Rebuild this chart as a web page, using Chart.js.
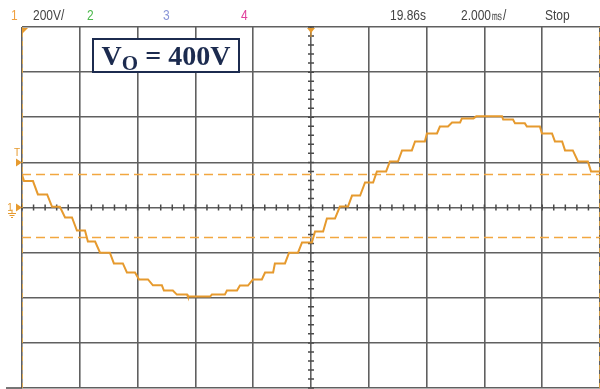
<!DOCTYPE html>
<html>
<head>
<meta charset="utf-8">
<script src="https://cdn.jsdelivr.net/npm/chart.js@4"></script>
<style>
  html, body { margin: 0; padding: 0; background: #fff; }
  #wrap { position: relative; width: 600px; height: 389px; overflow: hidden; }
  #scope { position: absolute; left: 0; top: 0; }
  .hdr { position: absolute; top: 6px; font: 15px "Liberation Sans", sans-serif; color: #444; white-space: nowrap;
         transform: scaleX(0.8); transform-origin: left top; }
  #vo { position: absolute; left: 92px; top: 38px; width: 144px; height: 31px; border: 2px solid #1c2b4f; background: #fff;
        font: bold 28px "Liberation Serif", "Times New Roman", serif; color: #1c2b4f; text-align: center; line-height: 31px; }
  #vo sub { font-size: 21px; vertical-align: -5px; line-height: 0; }
</style>
</head>
<body>
<div id="wrap">
  <canvas id="scope" width="600" height="389"></canvas>
  <span class="hdr" style="left:11px;color:#f0a040">1</span>
  <span class="hdr" style="left:33px">200V/</span>
  <span class="hdr" style="left:87px;color:#4cb84c">2</span>
  <span class="hdr" style="left:163px;color:#8a96d8">3</span>
  <span class="hdr" style="left:241px;color:#e0409c">4</span>
  <span class="hdr" style="left:390px">19.86s</span>
  <span class="hdr" style="left:461px">2.000㎳/</span>
  <span class="hdr" style="left:545px">Stop</span>
  <div id="vo">V<sub>O</sub> = 400V</div>
</div>
<script>
// channel 1 capture, 2 ms/div, 200 V/div
const stepStart = [0, 0.07, 0.55, 1.04, 1.49, 1.90, 2.28, 2.70, 3.18, 3.63, 4.05, 4.53, 4.91, 5.36, 5.74,
  6.57, 7.09, 7.54, 7.99, 8.41, 8.75, 9.24, 9.69, 10.14, 10.55, 11.00, 11.42, 11.87, 12.28, 12.73,
  13.15, 13.60, 14.01, 14.46, 14.88, 15.22, 15.72, 16.65, 17.06, 17.47, 17.99, 18.44, 18.79, 19.24, 19.69];
const stepEnd = [0.02, 0.38, 0.87, 1.31, 1.73, 2.18, 2.53, 3.04, 3.49, 3.91, 4.36, 4.84, 5.22, 5.71, 6.51,
  7.02, 7.44, 7.82, 8.30, 8.69, 9.10, 9.55, 10.03, 10.42, 10.83, 11.28, 11.70, 12.15, 12.60, 13.01,
  13.49, 13.94, 14.36, 14.74, 15.16, 15.62, 16.61, 16.99, 17.40, 17.92, 18.34, 18.69, 19.06, 19.58, 20.0];
const stepVolts = [146, 117, 58, 3, -44, -102, -151, -200, -248, -288, -319, -345, -368, -386, -395,
  -386, -368, -346, -319, -288, -248, -200, -155, -106, -49, 4, 53, 111, 160, 204,
  253, 293, 328, 359, 377, 395, 404, 390, 373, 359, 328, 293, 253, 204, 160];

const cursorVolts = [146, -133];   // horizontal cursors
const cursorTimes = [0, 20];       // vertical cursors (ms)
const trigLevel = 200;
const timeRange = [0, 20];
const voltRange = [-800, 800];

const ORANGE = "#e69a2e";

const wave = [];
stepStart.forEach((t, i) => {
  wave.push({ x: t, y: stepVolts[i] });
  wave.push({ x: stepEnd[i], y: stepVolts[i] });
});

const datasets = [{ data: wave, borderColor: ORANGE, borderWidth: 2, order: 0 }];
cursorVolts.forEach(v => datasets.push({
  data: [{ x: timeRange[0], y: v }, { x: timeRange[1], y: v }],
  borderColor: "#f2a740", borderWidth: 1.5, borderDash: [9, 5], order: 1
}));
cursorTimes.forEach(t => datasets.push({
  data: [{ x: t, y: voltRange[0] }, { x: t, y: voltRange[1] }],
  borderColor: "#f2b040", borderWidth: 1.5, borderDash: [5, 4], order: 1
}));

// minor ticks on the centre graticule lines + channel markers on the left
const graticule = {
  id: "graticule",
  beforeDatasetsDraw(chart) {
    const { ctx, scales: { x, y }, chartArea } = chart;
    const y0 = y.getPixelForValue(0), xc = x.getPixelForValue(10);
    ctx.save();
    ctx.strokeStyle = "#4a4a4a";
    ctx.lineWidth = 1.5;
    ctx.beginPath();
    for (let t = 0; t <= 20.001; t += 0.4) {
      const px = x.getPixelForValue(t);
      ctx.moveTo(px, y0 - 3); ctx.lineTo(px, y0 + 3);
    }
    for (let v = -800; v <= 800; v += 40) {
      const py = y.getPixelForValue(v);
      ctx.moveTo(xc - 3, py); ctx.lineTo(xc + 3, py);
    }
    // border lines run into the left margin
    ctx.moveTo(6, chartArea.bottom); ctx.lineTo(chartArea.left, chartArea.bottom);
    ctx.stroke();
    ctx.restore();
  },
  afterDatasetsDraw(chart) {
    const { ctx, scales: { x, y }, chartArea } = chart;
    ctx.save();
    ctx.fillStyle = ORANGE;
    ctx.strokeStyle = ORANGE;
    // trigger position, top left
    const l = chartArea.left, t = chartArea.top;
    ctx.beginPath(); ctx.moveTo(l, t + 1); ctx.lineTo(l + 6, t + 1); ctx.lineTo(l, t + 7); ctx.fill();
    // trigger point at screen centre
    const xc = x.getPixelForValue(10);
    ctx.beginPath(); ctx.moveTo(xc - 4, t + 1); ctx.lineTo(xc + 4, t + 1); ctx.lineTo(xc, t + 6); ctx.fill();
    ctx.lineWidth = 1.2;
    ctx.beginPath(); ctx.moveTo(xc, t + 4); ctx.lineTo(xc, t + 10); ctx.stroke();
    // trigger level marker
    const yt = y.getPixelForValue(trigLevel);
    ctx.beginPath(); ctx.moveTo(l - 6, yt - 4); ctx.lineTo(l, yt); ctx.lineTo(l - 6, yt + 4); ctx.fill();
    ctx.font = "10px 'Liberation Sans', sans-serif";
    ctx.textAlign = "center";
    ctx.fillText("T", l - 5, yt - 6);
    // channel 1 ground marker
    const yg = y.getPixelForValue(0);
    ctx.beginPath(); ctx.moveTo(l - 6, yg - 4); ctx.lineTo(l, yg); ctx.lineTo(l - 6, yg + 4); ctx.fill();
    ctx.fillText("1", l - 12, yg + 3);
    ctx.lineWidth = 1;
    ctx.beginPath();
    ctx.moveTo(l - 10, yg + 2); ctx.lineTo(l - 10, yg + 6);
    ctx.moveTo(l - 14, yg + 6); ctx.lineTo(l - 6, yg + 6);
    ctx.moveTo(l - 12.5, yg + 8); ctx.lineTo(l - 7.5, yg + 8);
    ctx.moveTo(l - 11, yg + 10); ctx.lineTo(l - 9, yg + 10);
    ctx.stroke();
    ctx.restore();
  }
};

new Chart(document.getElementById("scope"), {
  type: "line",
  data: { datasets },
  options: {
    responsive: false,
    animation: false,
    layout: { padding: { left: 22, top: 27, right: 0, bottom: 1 } },
    elements: { point: { radius: 0 }, line: { tension: 0 } },
    plugins: { legend: { display: false }, tooltip: { enabled: false } },
    scales: {
      x: {
        type: "linear", min: timeRange[0], max: timeRange[1],
        ticks: { display: false, stepSize: 2 },
        grid: { color: "#606060", lineWidth: 1.6, drawTicks: false },
        border: { display: false }
      },
      y: {
        type: "linear", min: voltRange[0], max: voltRange[1],
        ticks: { display: false, stepSize: 200 },
        grid: { color: "#606060", lineWidth: 1.6, drawTicks: false },
        border: { display: false }
      }
    }
  },
  plugins: [graticule]
});
</script>
</body>
</html>
